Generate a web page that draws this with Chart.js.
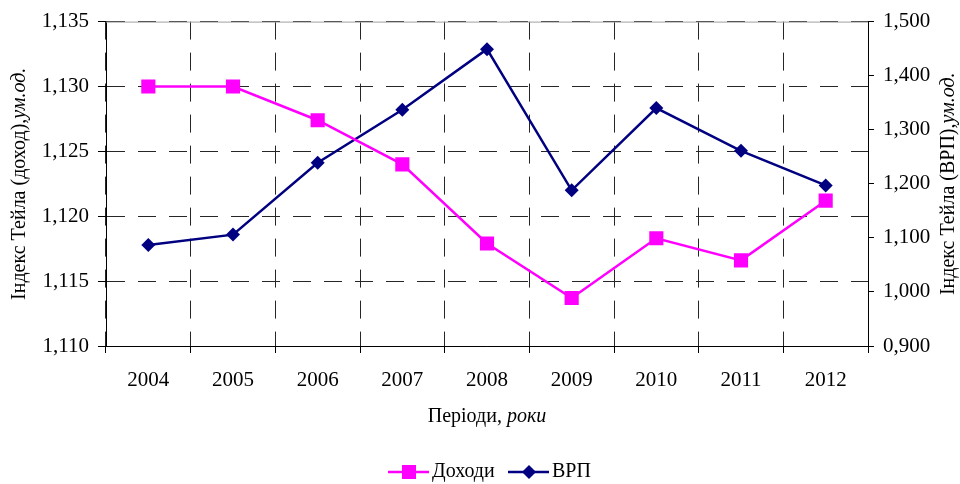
<!DOCTYPE html>
<html>
<head>
<meta charset="utf-8">
<script src="https://cdn.jsdelivr.net/npm/chart.js@4"></script>
<style>
  body { margin: 0; background: #fff; }
  #wrap { width: 960px; height: 484px; }
</style>
</head>
<body>
<div id="wrap"><canvas id="chart" width="960" height="484"></canvas></div>
<script>
const roky = ["2004", "2005", "2006", "2007", "2008", "2009", "2010", "2011", "2012"];
const dokhody = [1.1300, 1.1300, 1.1274, 1.1240, 1.1179, 1.1137, 1.1183, 1.1166, 1.1212];
const vrp = [1.087, 1.106, 1.239, 1.337, 1.449, 1.188, 1.340, 1.261, 1.197];

const SERIF = "'Liberation Serif', 'Times New Roman', serif";
const kolirGrid = "#262626";
const shtrykh = [18, 13];

function komaFormat(v) {
    return Number(v).toFixed(3).replace(".", ",");
}

// pidpysy osei i legenda z kursyvom
const pidpysy = {
    id: "pidpysy",
    afterDraw(chart) {
        const ctx = chart.ctx;
        const area = chart.chartArea;
        const cy = (area.top + area.bottom) / 2;

        // verkhnia ramka
        ctx.save();
        ctx.strokeStyle = "#a0a0a0";
        ctx.lineWidth = 1;
        ctx.beginPath();
        ctx.moveTo(area.left, area.top + 0.5);
        ctx.lineTo(area.right, area.top + 0.5);
        ctx.stroke();
        ctx.restore();

        function zmishanyi(x, y, zvych, kursyv, kut) {
            ctx.save();
            ctx.translate(x, y);
            ctx.rotate(kut);
            ctx.fillStyle = "#000";
            ctx.textBaseline = "middle";
            ctx.font = "20px " + SERIF;
            const w1 = ctx.measureText(zvych).width;
            ctx.font = "italic 20px " + SERIF;
            const w2 = ctx.measureText(kursyv).width;
            let sx = -(w1 + w2) / 2;
            ctx.font = "20px " + SERIF;
            ctx.fillText(zvych, sx, 0);
            ctx.font = "italic 20px " + SERIF;
            ctx.fillText(kursyv, sx + w1, 0);
            ctx.restore();
        }

        zmishanyi(20, cy, "Індекс Тейла (доход),", "ум.од.", -Math.PI / 2);
        zmishanyi(949, cy, "Індекс Тейла (ВРП),", "ум.од.", -Math.PI / 2);
        zmishanyi((area.left + area.right) / 2, 417, "Періоди, ", "роки", 0);

        // legenda
        const ly = 472;
        ctx.save();
        ctx.lineWidth = 2.5;
        ctx.strokeStyle = "#ff00ff";
        ctx.beginPath();
        ctx.moveTo(388, ly);
        ctx.lineTo(429, ly);
        ctx.stroke();
        ctx.fillStyle = "#ff00ff";
        ctx.fillRect(402, ly - 7, 14, 14);
        ctx.strokeStyle = "#000080";
        ctx.beginPath();
        ctx.moveTo(508, ly);
        ctx.lineTo(549, ly);
        ctx.stroke();
        ctx.fillStyle = "#000080";
        ctx.beginPath();
        ctx.moveTo(529, ly - 7);
        ctx.lineTo(536, ly);
        ctx.lineTo(529, ly + 7);
        ctx.lineTo(522, ly);
        ctx.closePath();
        ctx.fill();
        ctx.fillStyle = "#000";
        ctx.font = "20px " + SERIF;
        ctx.textBaseline = "middle";
        ctx.fillText("Доходи", 432, ly);
        ctx.fillText("ВРП", 552, ly);
        ctx.restore();
    }
};

const ctxL = document.getElementById("chart").getContext("2d");
new Chart(ctxL, {
    type: "line",
    data: {
        labels: roky,
        datasets: [{
            label: "Доходи",
            data: dokhody,
            yAxisID: "y",
            borderColor: "#ff00ff",
            backgroundColor: "#ff00ff",
            borderWidth: 2.5,
            pointStyle: "rect",
            pointRadius: 10,
            pointHoverRadius: 10,
            pointBorderWidth: 0,
            tension: 0,
        }, {
            label: "ВРП",
            data: vrp,
            yAxisID: "y1",
            borderColor: "#000080",
            backgroundColor: "#000080",
            borderWidth: 2.5,
            pointStyle: "rectRot",
            pointRadius: 7,
            pointHoverRadius: 7,
            pointBorderWidth: 0,
            tension: 0,
        }],
    },
    options: {
        responsive: false,
        animation: false,
        layout: { padding: { top: 19, left: 0, right: 0, bottom: 0 } },
        plugins: {
            legend: { display: false },
            tooltip: { enabled: false },
        },
        scales: {
            x: {
                offset: true,
                grid: {
                    offset: true,
                    color: kolirGrid,
                    tickColor: "#000",
                    tickLength: 7,
                    tickBorderDash: [],
                },
                border: { color: "#000", width: 1, dash: shtrykh },
                ticks: {
                    color: "#000",
                    font: { family: SERIF, size: 21 },
                    padding: 15,
                    maxRotation: 0,
                },
                afterFit(scale) { scale.height = 138; },
            },
            y: {
                position: "left",
                min: 1.110,
                max: 1.135,
                grid: {
                    color: kolirGrid,
                    tickColor: "#000",
                    tickLength: 8,
                    tickBorderDash: [],
                },
                border: { color: "#000", width: 1, dash: shtrykh },
                ticks: {
                    stepSize: 0.005,
                    color: "#000",
                    font: { family: SERIF, size: 21 },
                    padding: 9,
                    callback: v => komaFormat(v),
                },
                afterFit(scale) { scale.width = 106; },
            },
            y1: {
                position: "right",
                min: 0.9,
                max: 1.5,
                grid: {
                    drawOnChartArea: false,
                    tickColor: "#000",
                    tickLength: 6,
                },
                border: { color: "#000", width: 1 },
                ticks: {
                    stepSize: 0.1,
                    color: "#000",
                    font: { family: SERIF, size: 21 },
                    padding: 9,
                    callback: v => komaFormat(v),
                },
                afterFit(scale) { scale.width = 92; },
            },
        },
    },
    plugins: [pidpysy],
});
</script>
</body>
</html>
